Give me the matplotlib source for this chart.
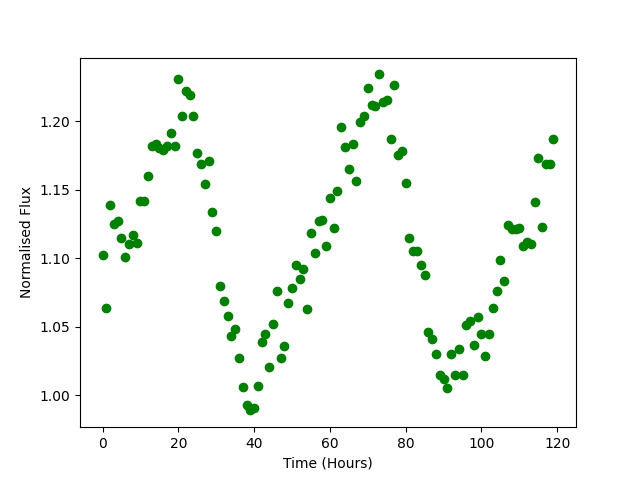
import matplotlib
matplotlib.use('Agg')
import matplotlib.pyplot as plt

time_hours = list(range(120))
flux = [
    1.102, 1.064, 1.139, 1.125, 1.127, 1.115, 1.101, 1.110, 1.117, 1.111,
    1.142, 1.142, 1.160, 1.182, 1.183, 1.180, 1.179, 1.182, 1.191, 1.182,
    1.231, 1.204, 1.222, 1.219, 1.204, 1.177, 1.169, 1.154, 1.171, 1.134,
    1.120, 1.080, 1.069, 1.058, 1.043, 1.048, 1.027, 1.006, 0.993, 0.989,
    0.991, 1.007, 1.039, 1.045, 1.021, 1.052, 1.076, 1.027, 1.036, 1.067,
    1.078, 1.095, 1.085, 1.092, 1.063, 1.118, 1.104, 1.127, 1.128, 1.109,
    1.144, 1.122, 1.149, 1.196, 1.181, 1.165, 1.183, 1.156, 1.199, 1.204,
    1.224, 1.212, 1.211, 1.234, 1.214, 1.215, 1.187, 1.226, 1.175, 1.178,
    1.155, 1.115, 1.105, 1.105, 1.095, 1.088, 1.046, 1.041, 1.030, 1.015,
    1.012, 1.005, 1.030, 1.015, 1.034, 1.015, 1.051, 1.054, 1.037, 1.057,
    1.045, 1.029, 1.045, 1.064, 1.076, 1.099, 1.083, 1.124, 1.121, 1.121,
    1.122, 1.109, 1.112, 1.110, 1.141, 1.173, 1.123, 1.169, 1.169, 1.187,
]

plt.figure(figsize=(6.4, 4.8), dpi=100)
plt.plot(time_hours, flux, 'o', color='green')
plt.xlabel("Time (Hours)")
plt.ylabel("Normalised Flux")
plt.savefig("out.png")
